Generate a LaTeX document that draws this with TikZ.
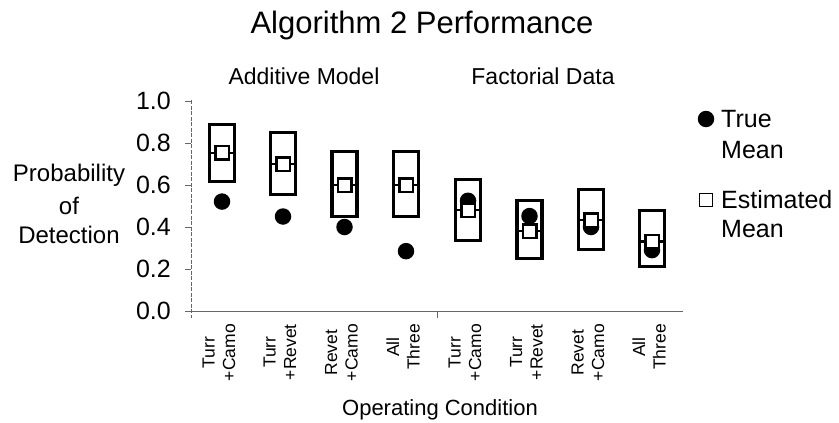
\documentclass[tikz,border=0pt]{standalone}
\usepackage{fontspec}
\setmainfont{Liberation Sans}
\begin{document}
\begin{tikzpicture}[x=1pt,y=-1pt,
  txt/.style={inner sep=0pt, font=\fontsize{24}{28}\selectfont},
  ticklab/.style={inner sep=0pt, font=\fontsize{25}{29}\selectfont, anchor=east},
  ttl/.style={inner sep=0pt, font=\fontsize{31}{36}\selectfont},
  sub/.style={inner sep=0pt, font=\fontsize{23}{27}\selectfont},
  cat/.style={inner sep=0pt, font=\fontsize{17.5}{20.5}\selectfont, rotate=90, anchor=east, align=center},
  cbox/.style={draw=black, line width=3.1pt, minimum width=25pt, inner sep=0pt, fill=none},
  truedot/.style={circle, fill=black, minimum size=16.5pt, inner sep=0pt},
  estsq/.style={draw=black, fill=white, line width=2.5pt, minimum size=13.5pt, inner sep=0pt},
  meanline/.style={line width=2.5pt},
  axis/.style={draw=black!60, line width=0.9pt}
]
\useasboundingbox (0,0) rectangle (839,423);

% titles
\node[ttl, anchor=base] (title) at (422,34) {Algorithm 2 Performance};
\node[sub, anchor=base] (addmod) at (304,84) {Additive Model};
\node[sub, anchor=base] (factdat) at (543,84) {Factorial Data};

% axes
\coordinate (ytop) at (191,100);
\coordinate (ybot) at (191,318);
\coordinate (xleft) at (185,311);
\coordinate (xright) at (683,311);
\draw[axis, dash pattern=on 4pt off 1.5pt] (ytop) -- (ybot);
\draw[axis] (xleft) -- (xright);
\coordinate (midtick) at (437,311);
\draw[axis] (midtick) -- ++(0,7);
\foreach \k/\v/\lab in {0/0/0.0, 1/0.2/0.2, 2/0.4/0.4, 3/0.6/0.6, 4/0.8/0.8, 5/1/1.0} {
  \coordinate (yt\k) at (191,{311-210*\v});
  \draw[axis] (yt\k) -- ++(-6,0);
  \node[ticklab] (ylab\k) at (171,{311-210*\v}) {\lab};
}
\node[txt, anchor=base] (ylabA) at (69,181) {Probability};
\node[txt, anchor=base] (ylabB) at (69,214) {of};
\node[txt, anchor=base] (ylabC) at (69,243) {Detection};

% boxes, estimated means and true means
\foreach \i/\x/\lo/\hi/\est/\tru in {
  1/222/0.617/0.887/0.753/0.521,
  2/283/0.555/0.85/0.70/0.45,
  3/344.5/0.45/0.76/0.60/0.40,
  4/406/0.45/0.76/0.60/0.285,
  5/468/0.337/0.625/0.48/0.525,
  6/529.5/0.25/0.525/0.38/0.452,
  7/591/0.295/0.577/0.433/0.40,
  8/652/0.21/0.48/0.33/0.29} {
  \pgfmathsetmacro\h{210*(\hi-\lo)}
  \pgfmathsetmacro\ym{311-105*(\hi+\lo)}
  \node[cbox, minimum height=\h pt] (box\i) at (\x,\ym) {};
  \coordinate (e\i) at (\x,{311-210*\est});
  \node[truedot] (true\i) at (\x,{311-210*\tru}) {};
  \node[estsq] (est\i) at (e\i) {};
  \draw[meanline] (box\i.west |- e\i) -- (est\i.west);
  \draw[meanline] (est\i.east) -- (box\i.east |- e\i);
}

% category labels
\foreach \i/\x/\lab in {
  1/219/{Turr\\+Camo}, 2/280/{Turr\\+Revet}, 3/341.5/{Revet\\+Camo}, 4/403/{All\\Three},
  5/465/{Turr\\+Camo}, 6/526.5/{Turr\\+Revet}, 7/588/{Revet\\+Camo}, 8/649/{All\\Three}} {
  \node[cat] (cat\i) at (\x,324) {\lab};
}
\node[txt, anchor=base, font=\fontsize{22}{26}\selectfont] (xlabel) at (440,415) {Operating Condition};

% legend
\node[truedot] (legdot) at (706,119) {};
\node[txt, anchor=west, font=\fontsize{25}{29}\selectfont] (legtrue) at (721,119) {True};
\node[txt, anchor=west, font=\fontsize{25}{29}\selectfont] (legtrue2) at (721,150) {Mean};
\node[estsq, line width=1.8pt, minimum size=13pt] (legsq) at (706,200) {};
\node[txt, anchor=west, font=\fontsize{25}{29}\selectfont] (legest) at (721,200) {Estimated};
\node[txt, anchor=west, font=\fontsize{25}{29}\selectfont] (legest2) at (721,229) {Mean};
\end{tikzpicture}
\end{document}
